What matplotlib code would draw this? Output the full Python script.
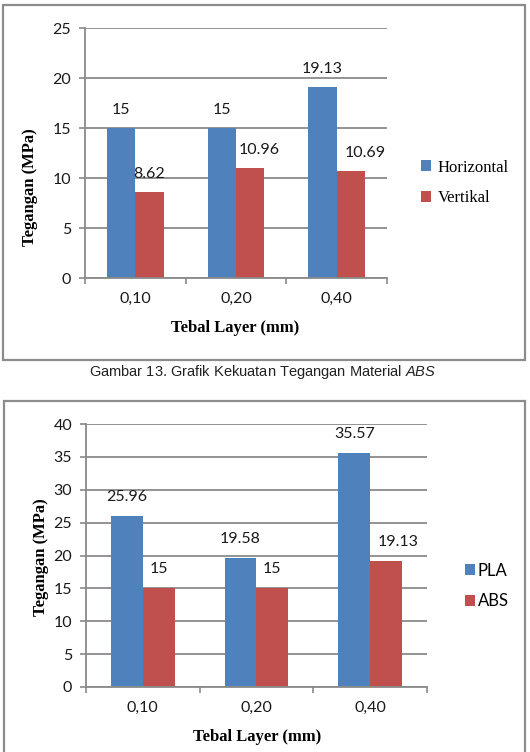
import numpy as np
import matplotlib
matplotlib.use('Agg')
import matplotlib.pyplot as plt
from matplotlib.patches import Rectangle

# data
layers = ['0,10', '0,20', '0,40']
abs_horizontal = [15, 15, 19.13]
abs_vertikal = [8.62, 10.96, 10.69]
pla = [25.96, 19.58, 35.57]
abs_all = [15, 15, 19.13]

BLUE = '#4F81BD'
RED = '#C0504D'
GRID = '#8a8a8a'
SANS = ['Lato', 'DejaVu Sans']
SERIF = ['Liberation Serif', 'DejaVu Serif']

plt.rcParams['mathtext.fontset'] = 'custom'
plt.rcParams['mathtext.it'] = 'Liberation Sans:italic'
plt.rcParams['mathtext.rm'] = 'Liberation Sans'

W, H = 530, 752
fig = plt.figure(figsize=(W / 100, H / 100), dpi=100)


def px_axes(x0, x1, ytop, ybot):
    return fig.add_axes([x0 / W, 1 - ybot / H, (x1 - x0) / W, (ybot - ytop) / H])


def draw_chart(ax, s1, s2, names, ymax, lab_dx, lab_dy):
    x = np.arange(len(layers))
    bw = 0.28
    ax.set_axisbelow(True)
    ax.bar(x - bw / 2, s1, bw, color=BLUE, label=names[0])
    ax.bar(x + bw / 2, s2, bw, color=RED, label=names[1])
    for k, v in enumerate(s1):
        ax.annotate(f'{v:g}', (x[k] - bw / 2, v), xytext=(lab_dx[0][k], lab_dy),
                    textcoords='offset pixels', ha='center', va='center',
                    fontsize=11.5, family=SANS, color='#1a1a1a')
    for k, v in enumerate(s2):
        ax.annotate(f'{v:g}', (x[k] + bw / 2, v), xytext=(lab_dx[1][k], lab_dy),
                    textcoords='offset pixels', ha='center', va='center',
                    fontsize=11.5, family=SANS, color='#1a1a1a')
    ax.set_xlim(-0.5, len(layers) - 0.5)
    ax.set_ylim(0, ymax)
    ax.set_yticks(np.arange(0, ymax + 1, 5))
    ax.set_xticks(np.arange(-0.5, len(layers), 1.0))
    ax.set_xticklabels([])
    ax.set_xticks(x, minor=True)
    ax.set_xticklabels(layers, minor=True)
    ax.tick_params(axis='x', which='minor', length=0, pad=10)
    ax.tick_params(axis='x', which='major', length=4, width=1.2, color=GRID, direction='out')
    ax.tick_params(axis='y', length=4, width=1.2, color=GRID, pad=6)
    for t in ax.get_yticklabels() + ax.get_xticklabels(minor=True):
        t.set_family(SANS)
        t.set_fontsize(11.5)
        t.set_color('#1a1a1a')
    ax.grid(axis='y', color=GRID, linewidth=1.3)
    for s in ['top', 'right']:
        ax.spines[s].set_visible(False)
    for s in ['left', 'bottom']:
        ax.spines[s].set_color(GRID)
        ax.spines[s].set_linewidth(1.3)


# top chart: ABS horizontal vs vertikal
ax1 = px_axes(85, 387, 28, 278)
draw_chart(ax1, abs_horizontal, abs_vertikal, ['Horizontal', 'Vertikal'], 25,
           [[0, 0, 0], [0, 9, 14]], 18)
ax1.set_ylabel('Tegangan (MPa)', family=SERIF, fontweight='bold', fontsize=12)
ax1.yaxis.set_label_coords(-0.156, 0.364)
ax1.set_xlabel('Tebal Layer (mm)', family=SERIF, fontweight='bold', fontsize=12)
ax1.xaxis.set_label_coords(0.497, -0.168)
ax1.legend(loc='center left', bbox_to_anchor=(421 / W, 1 - 183 / H),
           bbox_transform=fig.transFigure, frameon=False, borderpad=0,
           borderaxespad=0, handlelength=0.6, handleheight=0.6,
           handletextpad=0.4, labelspacing=0.9,
           prop={'family': SERIF, 'size': 12})

# bottom chart: PLA vs ABS
ax2 = px_axes(86, 427, 424, 687)
draw_chart(ax2, pla, abs_all, ['PLA', 'ABS'], 40,
           [[0, 0, 0], [0, 0, 12]], 19)
ax2.set_ylabel('Tegangan (MPa)', family=SERIF, fontweight='bold', fontsize=12)
ax2.yaxis.set_label_coords(-0.108, 0.494)
ax2.set_xlabel('Tebal Layer (mm)', family=SERIF, fontweight='bold', fontsize=12)
ax2.xaxis.set_label_coords(0.501, -0.160)
ax2.legend(loc='center left', bbox_to_anchor=(465 / W, 1 - 586 / H),
           bbox_transform=fig.transFigure, frameon=False, borderpad=0,
           borderaxespad=0, handlelength=0.6, handleheight=0.6,
           handletextpad=0.15, labelspacing=0.9,
           prop={'family': SANS, 'size': 12})

# frames around the two charts
fig.add_artist(Rectangle((3 / W, 1 - 360 / H), 522 / W, 355 / H, transform=fig.transFigure,
                         fill=False, edgecolor='#8c8c8c', linewidth=1.6))
fig.add_artist(Rectangle((4 / W, -0.01), 521 / W, (752 - 401) / H + 0.01,
                         transform=fig.transFigure, fill=False,
                         edgecolor='#8c8c8c', linewidth=1.6))

# caption
fig.text(263 / W, 1 - 372 / H, 'Gambar 13. Grafik Kekuatan Tegangan Material $\\it{ABS}$',
         ha='center', va='center', fontsize=10.5, family=['Liberation Sans', 'DejaVu Sans'],
         color='#222222')

fig.savefig('out.png', dpi=100)
